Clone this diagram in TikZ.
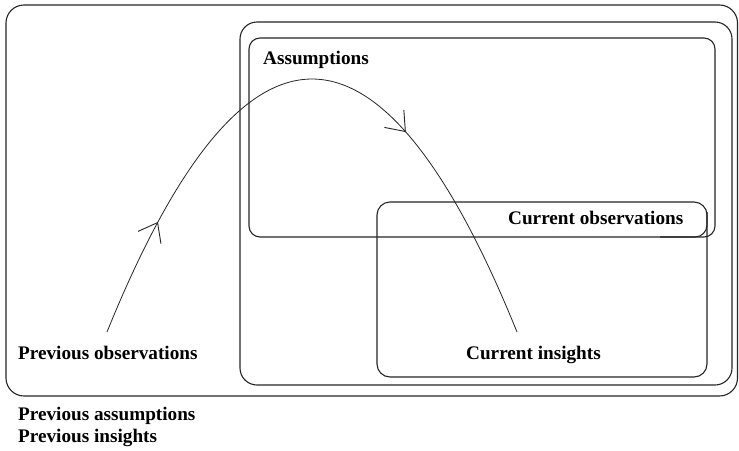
\documentclass[tikz,border=0pt]{standalone}
\usepackage{fontspec}
\setmainfont{Liberation Serif}
\usetikzlibrary{decorations.markings,arrows.meta}
\tikzset{barbtip/.tip={Straight Barb[length=17pt,width=26pt,line width=0.9pt]}}
\begin{document}
\begin{tikzpicture}[x=1pt,y=-1pt,
  box/.style={draw=black!85, line width=1.1pt, rounded corners=#1},
  box/.default=14,
  lbl/.style={anchor=base west, inner sep=0pt, font=\fontsize{19.2}{22}\selectfont\bfseries},
  flow/.style={draw=black!85, line width=0.8pt, postaction=decorate,
    decoration={markings,
      mark=at position 0.178 with {\arrow{barbtip}},
      mark=at position 0.663 with {\arrow{barbtip}}}}
]
\fill[white] (0,0) rectangle (739,450);
\useasboundingbox (0,0) rectangle (739,450);
% frames
\draw[box=18] (6,5) rectangle (737.5,396);
\draw[box=17] (240,22) rectangle (732,385);
\draw[box=11] (249,38) rectangle (715,237);
\draw[box=13] (377,202) rectangle (707,377);
\draw[box=12] (660,237) -- (707,237) -- (707,212);
% labels
\node[lbl] (assum) at (263,64) {Assumptions};
\node[lbl] (curobs) at (508,224) {Current observations};
\node[lbl] (prevobs) at (18,359) {Previous observations};
\node[lbl] (curins) at (466,359) {Current insights};
\node[lbl] (prevass) at (18,420) {Previous assumptions};
\node[lbl] (previns) at (18,442) {Previous insights};
% flow curve
\coordinate (s) at (107,332);
\coordinate (e) at (517,332);
\draw[flow] (s) .. controls (243.7,-5.3) and (380.3,-5.3) .. (e);
\end{tikzpicture}
\end{document}
